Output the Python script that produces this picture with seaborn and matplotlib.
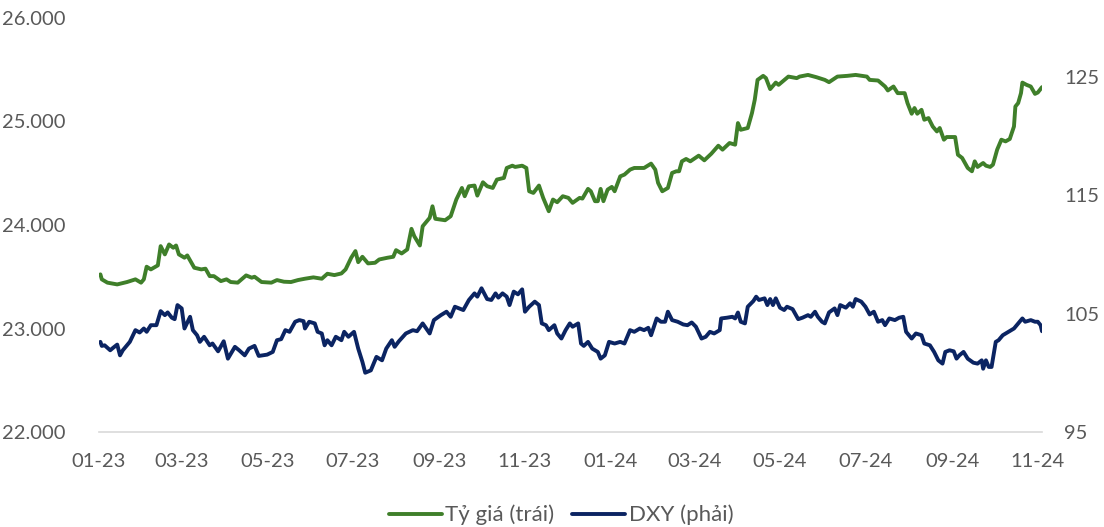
import matplotlib
matplotlib.use("Agg")
import matplotlib.pyplot as plt
import matplotlib.ticker as mticker
import matplotlib.dates as mdates
import pandas as pd
import seaborn as sns

# ---------------- data ----------------
fx_dates = [
    "2023-01-02", "2023-01-03", "2023-01-07", "2023-01-14", "2023-01-21", "2023-01-27", "2023-01-31",
    "2023-02-02", "2023-02-04", "2023-02-07", "2023-02-12", "2023-02-14", "2023-02-17", "2023-02-20",
    "2023-02-23", "2023-02-25", "2023-02-27", "2023-03-03", "2023-03-05", "2023-03-10", "2023-03-15",
    "2023-03-18", "2023-03-21", "2023-03-24", "2023-03-29", "2023-04-02", "2023-04-05", "2023-04-10",
    "2023-04-16", "2023-04-20", "2023-04-22", "2023-04-27", "2023-05-04", "2023-05-08", "2023-05-13",
    "2023-05-18", "2023-05-23", "2023-05-28", "2023-06-03", "2023-06-09", "2023-06-13", "2023-06-18",
    "2023-06-23", "2023-06-26", "2023-06-30", "2023-07-03", "2023-07-05", "2023-07-08", "2023-07-12",
    "2023-07-17", "2023-07-20", "2023-07-26", "2023-07-30", "2023-08-01", "2023-08-05", "2023-08-09",
    "2023-08-12", "2023-08-14", "2023-08-18", "2023-08-20", "2023-08-25", "2023-08-27", "2023-08-29",
    "2023-09-05", "2023-09-09", "2023-09-13", "2023-09-17", "2023-09-19", "2023-09-22", "2023-09-26",
    "2023-09-28", "2023-10-02", "2023-10-05", "2023-10-09", "2023-10-12", "2023-10-17", "2023-10-19",
    "2023-10-23", "2023-10-25", "2023-10-30", "2023-11-02", "2023-11-04", "2023-11-07", "2023-11-11",
    "2023-11-14", "2023-11-18", "2023-11-21", "2023-11-24", "2023-11-28", "2023-12-02", "2023-12-05",
    "2023-12-10", "2023-12-12", "2023-12-16", "2023-12-18", "2023-12-21", "2023-12-23", "2023-12-25",
    "2023-12-27", "2023-12-30", "2024-01-02", "2024-01-04", "2024-01-08", "2024-01-11", "2024-01-15",
    "2024-01-18", "2024-01-25", "2024-01-30", "2024-02-02", "2024-02-04", "2024-02-07", "2024-02-11",
    "2024-02-14", "2024-02-17", "2024-02-19", "2024-02-21", "2024-02-24", "2024-02-27", "2024-03-04",
    "2024-03-08", "2024-03-13", "2024-03-18", "2024-03-21", "2024-03-26", "2024-03-30", "2024-04-01",
    "2024-04-03", "2024-04-08", "2024-04-11", "2024-04-13", "2024-04-15", "2024-04-19", "2024-04-21",
    "2024-04-24", "2024-04-28", "2024-04-30", "2024-05-07", "2024-05-13", "2024-05-15", "2024-05-21",
    "2024-05-27", "2024-06-02", "2024-06-05", "2024-06-11", "2024-06-18", "2024-06-24", "2024-07-02",
    "2024-07-04", "2024-07-10", "2024-07-15", "2024-07-17", "2024-07-21", "2024-07-24", "2024-07-29",
    "2024-07-31", "2024-08-03", "2024-08-05", "2024-08-07", "2024-08-10", "2024-08-12", "2024-08-15",
    "2024-08-18", "2024-08-21", "2024-08-23", "2024-08-26", "2024-08-28", "2024-09-03", "2024-09-05",
    "2024-09-08", "2024-09-10", "2024-09-12", "2024-09-15", "2024-09-17", "2024-09-19", "2024-09-23",
    "2024-09-25", "2024-09-28", "2024-09-30", "2024-10-03", "2024-10-06", "2024-10-09", "2024-10-12",
    "2024-10-15", "2024-10-16", "2024-10-18", "2024-10-20", "2024-10-21", "2024-10-24", "2024-10-27",
    "2024-10-30", "2024-11-01", "2024-11-04",
]
fx_values = [
    23523, 23475, 23443, 23426, 23449, 23475, 23443,
    23475, 23597, 23571, 23610, 23796, 23716, 23812,
    23780, 23802, 23716, 23684, 23706, 23587, 23571,
    23578, 23506, 23506, 23458, 23475, 23449, 23443,
    23513, 23491, 23500, 23449, 23443, 23468, 23452,
    23449, 23468, 23481, 23494, 23481, 23529, 23516,
    23532, 23571, 23684, 23748, 23641, 23693, 23629,
    23635, 23667, 23684, 23693, 23757, 23725, 23764,
    23963, 23892, 23802, 23988, 24069, 24181, 24060,
    24046, 24085, 24246, 24358, 24278, 24374, 24381,
    24284, 24413, 24375, 24358, 24439, 24455, 24551,
    24573, 24561, 24573, 24551, 24326, 24310, 24381,
    24262, 24133, 24246, 24220, 24278, 24262, 24214,
    24262, 24255, 24349, 24326, 24230, 24230, 24349,
    24230, 24342, 24368, 24326, 24470, 24487, 24535,
    24551, 24551, 24593, 24535, 24407, 24326, 24358,
    24503, 24519, 24519, 24615, 24638, 24615, 24670,
    24625, 24689, 24766, 24728, 24792, 24776, 24985,
    24920, 24937, 25081, 25210, 25402, 25441, 25419,
    25313, 25376, 25354, 25434, 25419, 25434, 25450,
    25428, 25402, 25380, 25434, 25441, 25450, 25434,
    25402, 25396, 25338, 25300, 25338, 25274, 25274,
    25178, 25075, 25130, 25075, 25113, 25017, 25033,
    24952, 24904, 24937, 24824, 24850, 24850, 24679,
    24648, 24599, 24551, 24519, 24615, 24561, 24599,
    24573, 24561, 24583, 24728, 24824, 24808, 24831,
    24952, 25145, 25178, 25274, 25376, 25354, 25338,
    25267, 25280, 25332,
]

dxy_dates = [
    "2023-01-02", "2023-01-03", "2023-01-05", "2023-01-09", "2023-01-11", "2023-01-14", "2023-01-16",
    "2023-01-18", "2023-01-23", "2023-01-27", "2023-01-30", "2023-02-02", "2023-02-04", "2023-02-07",
    "2023-02-11", "2023-02-14", "2023-02-17", "2023-02-19", "2023-02-22", "2023-02-24", "2023-02-26",
    "2023-03-01", "2023-03-03", "2023-03-07", "2023-03-09", "2023-03-12", "2023-03-14", "2023-03-17",
    "2023-03-21", "2023-03-23", "2023-03-27", "2023-03-31", "2023-04-03", "2023-04-08", "2023-04-11",
    "2023-04-15", "2023-04-18", "2023-04-22", "2023-04-25", "2023-05-01", "2023-05-05", "2023-05-08",
    "2023-05-11", "2023-05-14", "2023-05-17", "2023-05-21", "2023-05-24", "2023-05-27", "2023-05-28",
    "2023-05-31", "2023-06-04", "2023-06-06", "2023-06-09", "2023-06-11", "2023-06-13", "2023-06-16",
    "2023-06-19", "2023-06-23", "2023-06-25", "2023-06-28", "2023-07-02", "2023-07-05", "2023-07-08",
    "2023-07-10", "2023-07-14", "2023-07-18", "2023-07-22", "2023-07-25", "2023-07-29", "2023-07-31",
    "2023-08-03", "2023-08-08", "2023-08-13", "2023-08-16", "2023-08-20", "2023-08-25", "2023-08-28",
    "2023-09-02", "2023-09-06", "2023-09-09", "2023-09-12", "2023-09-18", "2023-09-22", "2023-09-26",
    "2023-09-28", "2023-10-01", "2023-10-05", "2023-10-08", "2023-10-11", "2023-10-13", "2023-10-16",
    "2023-10-19", "2023-10-21", "2023-10-24", "2023-10-27", "2023-10-30", "2023-11-01", "2023-11-04",
    "2023-11-08", "2023-11-11", "2023-11-13", "2023-11-16", "2023-11-18", "2023-11-22", "2023-11-24",
    "2023-11-27", "2023-11-30", "2023-12-03", "2023-12-05", "2023-12-09", "2023-12-11", "2023-12-13",
    "2023-12-16", "2023-12-19", "2023-12-23", "2023-12-25", "2023-12-28", "2023-12-31", "2024-01-04",
    "2024-01-08", "2024-01-11", "2024-01-15", "2024-01-18", "2024-01-22", "2024-01-25", "2024-01-28",
    "2024-01-30", "2024-02-03", "2024-02-06", "2024-02-09", "2024-02-11", "2024-02-14", "2024-02-18",
    "2024-02-22", "2024-02-25", "2024-02-28", "2024-03-02", "2024-03-06", "2024-03-09", "2024-03-12",
    "2024-03-15", "2024-03-19", "2024-03-20", "2024-03-24", "2024-03-28", "2024-03-30", "2024-04-01",
    "2024-04-03", "2024-04-06", "2024-04-08", "2024-04-12", "2024-04-14", "2024-04-16", "2024-04-20",
    "2024-04-22", "2024-04-24", "2024-04-26", "2024-04-28", "2024-05-01", "2024-05-04", "2024-05-06",
    "2024-05-10", "2024-05-14", "2024-05-17", "2024-05-21", "2024-05-23", "2024-05-26", "2024-05-28",
    "2024-05-31", "2024-06-02", "2024-06-05", "2024-06-09", "2024-06-11", "2024-06-13", "2024-06-17",
    "2024-06-20", "2024-06-22", "2024-06-24", "2024-06-28", "2024-07-01", "2024-07-04", "2024-07-07",
    "2024-07-10", "2024-07-13", "2024-07-15", "2024-07-18", "2024-07-22", "2024-07-25", "2024-07-28",
    "2024-07-30", "2024-08-03", "2024-08-06", "2024-08-10", "2024-08-12", "2024-08-16", "2024-08-19",
    "2024-08-22", "2024-08-25", "2024-08-27", "2024-08-30", "2024-09-02", "2024-09-04", "2024-09-06",
    "2024-09-09", "2024-09-12", "2024-09-16", "2024-09-19", "2024-09-22", "2024-09-23", "2024-09-25",
    "2024-09-27", "2024-09-29", "2024-10-02", "2024-10-04", "2024-10-07", "2024-10-11", "2024-10-15",
    "2024-10-17", "2024-10-21", "2024-10-23", "2024-10-27", "2024-10-30", "2024-11-01", "2024-11-03",
    "2024-11-04",
]
dxy_values = [
    102.62, 102.28, 102.33, 101.91, 102.11, 102.39, 101.48,
    101.91, 102.62, 103.61, 103.41, 103.75, 103.47, 104.03,
    104.03, 105.22, 104.88, 105.11, 104.66, 104.54, 105.73,
    105.45, 103.75, 104.74, 103.61, 103.18, 102.62, 103.05,
    102.33, 102.48, 101.82, 102.67, 101.20, 102.20, 101.91,
    101.48, 102.05, 102.28, 101.43, 101.54, 101.77, 102.76,
    102.85, 103.61, 103.47, 104.32, 104.46, 104.37, 103.75,
    104.32, 104.18, 103.47, 103.33, 102.33, 102.76, 102.33,
    103.05, 102.76, 103.47, 103.05, 103.47, 102.05, 100.92,
    100.01, 100.21, 101.35, 101.06, 102.05, 102.76, 102.20,
    102.67, 103.33, 103.61, 103.52, 104.18, 103.33, 104.46,
    104.88, 105.17, 104.74, 105.59, 105.31, 106.16, 106.72,
    106.44, 107.15, 106.24, 106.16, 106.72, 106.36, 106.72,
    106.44, 105.73, 106.87, 106.64, 107.06, 105.17, 105.59,
    106.02, 105.73, 104.18, 104.03, 103.61, 104.03, 103.33,
    102.90, 103.61, 104.18, 103.90, 104.18, 102.48, 102.28,
    102.62, 102.05, 101.77, 101.20, 101.48, 102.62, 102.48,
    102.62, 102.48, 103.61, 103.47, 103.75, 103.61, 103.81,
    103.18, 104.60, 104.32, 104.32, 105.17, 104.46, 104.32,
    104.09, 104.03, 104.26, 103.90, 102.90, 103.05, 103.47,
    103.33, 103.61, 104.60, 104.66, 104.74, 104.60, 105.10,
    104.32, 104.18, 105.59, 106.07, 106.44, 106.16, 106.30,
    105.73, 106.24, 105.73, 106.30, 105.51, 105.31, 105.59,
    105.39, 104.54, 104.66, 104.88, 104.74, 105.17, 104.74,
    104.32, 104.18, 105.11, 105.45, 104.88, 105.73, 105.51,
    105.88, 105.59, 106.24, 106.02, 105.59, 104.94, 105.17,
    104.32, 104.46, 104.03, 104.60, 104.46, 104.66, 104.74,
    103.47, 102.90, 103.33, 103.18, 102.48, 102.33, 101.77,
    101.06, 100.78, 101.77, 101.91, 101.82, 101.20, 101.48,
    101.77, 101.20, 100.86, 100.78, 101.06, 100.35, 101.06,
    100.50, 100.50, 102.62, 102.76, 103.18, 103.47, 103.75,
    104.03, 104.60, 104.32, 104.46, 104.32, 104.32, 104.03,
    103.52,
]

series_labels = ["Tỷ giá (trái)", "DXY (phải)"]
left_ticks = [22000, 23000, 24000, 25000, 26000]
right_ticks = [95, 105, 115, 125]
x_tick_dates = pd.date_range("2023-01-01", "2024-11-01", freq="2MS")

# ---------------- styling ----------------
GREEN = "#3f7f2a"
NAVY = "#0b2462"
TXT = "#595959"
AXIS = "#d9d9d9"
FS = 14.5
FS_LEG = 16

sns.set_theme(style="white")
plt.rcParams["font.family"] = ["Lato", "DejaVu Sans"]

fx = pd.DataFrame({"date": pd.to_datetime(fx_dates), "value": fx_values})
dxy = pd.DataFrame({"date": pd.to_datetime(dxy_dates), "value": dxy_values})

W, H = 1104, 527
fig = plt.figure(figsize=(W / 100, H / 100), dpi=100)
L, R, T, B = 99, 1042, 18, 432
ax = fig.add_axes([L / W, 1 - B / H, (R - L) / W, (B - T) / H])
ax2 = ax.twinx()

sns.lineplot(data=fx, x="date", y="value", ax=ax, color=GREEN, linewidth=2.8,
             label=series_labels[0], legend=False)
sns.lineplot(data=dxy, x="date", y="value", ax=ax2, color=NAVY, linewidth=2.8,
             label=series_labels[1], legend=False)

ax.set_ylim(22000, 26000)
ax.set_yticks(left_ticks)
ax.yaxis.set_major_formatter(mticker.FuncFormatter(lambda v, p: f"{v:,.0f}".replace(",", ".")))
ax2.set_ylim(95, 130)
ax2.set_yticks(right_ticks)

ax.set_xlim(pd.Timestamp("2023-01-01"), pd.Timestamp("2024-11-04"))
ax.set_xticks(x_tick_dates)
ax.xaxis.set_major_formatter(mdates.DateFormatter("%m-%y"))

for a in (ax, ax2):
    a.set_xlabel("")
    a.set_ylabel("")
    for s in a.spines.values():
        s.set_visible(False)
    a.grid(False)
ax.spines["bottom"].set_visible(True)
ax.spines["bottom"].set_color(AXIS)
ax.spines["bottom"].set_linewidth(1.2)

ax.tick_params(axis="x", direction="out", length=6, width=1.2, color=AXIS,
               labelsize=FS, labelcolor=TXT, pad=9)
ax.tick_params(axis="y", length=0, labelsize=FS, labelcolor=TXT, pad=24)
ax2.tick_params(axis="y", length=0, labelsize=FS, labelcolor=TXT, pad=16)

h1, l1 = ax.get_legend_handles_labels()
h2, l2 = ax2.get_legend_handles_labels()
fig.legend(h1 + h2, l1 + l2, loc="center", bbox_to_anchor=(561 / W, 1 - 515 / H),
           ncol=2, frameon=False, fontsize=FS_LEG, labelcolor=TXT,
           handlelength=2.4, handletextpad=0.15, columnspacing=0.8)

fig.savefig("out.png", dpi=100)
